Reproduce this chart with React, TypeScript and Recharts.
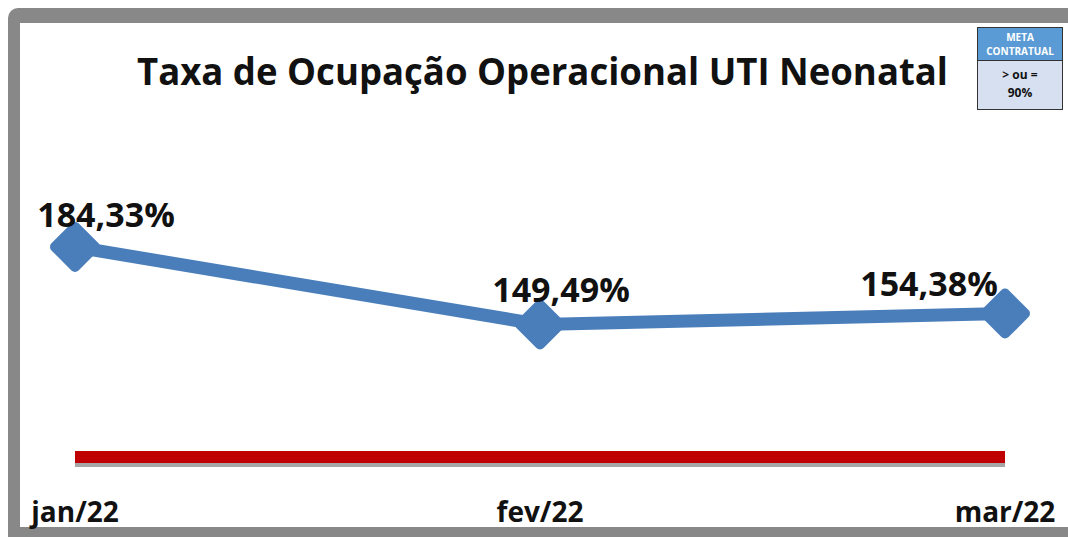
import React from "react";
import { LineChart, Line, XAxis, YAxis, LabelList } from "recharts";

const months = ["jan/22", "fev/22", "mar/22"];
const taxaOcupacao = [184.33, 149.49, 154.38];
const metaContratual = [90, 90, 90];

const data = months.map((mes, i) => ({
  mes,
  taxa: taxaOcupacao[i],
  meta: metaContratual[i],
}));

// where each data label sits relative to its point (Excel moved them by hand)
const labelShift = [
  { dx: 31, dy: -20 },
  { dx: 21, dy: -22 },
  { dx: -76, dy: -18 },
];

const FONT = "'Open Sans', 'Noto Sans', sans-serif";
const BLUE = "#4a7ebb";

const fmt = (v: number) => v.toFixed(2).replace(".", ",") + "%";

const Diamond = (props: any) => {
  const { cx, cy } = props;
  if (cx == null || cy == null) return null;
  const r = 20;
  return (
    <path
      d={`M${cx},${cy - r} L${cx + r},${cy} L${cx},${cy + r} L${cx - r},${cy} Z`}
      fill={BLUE}
      stroke={BLUE}
      strokeWidth={10}
      strokeLinejoin="round"
    />
  );
};

const TaxaLabel = (props: any) => {
  const { x, y, index, value } = props;
  const s = labelShift[index] || { dx: 0, dy: -20 };
  return (
    <text
      x={x + s.dx}
      y={y + s.dy}
      textAnchor="middle"
      fontFamily={FONT}
      fontWeight={700}
      fontSize={34}
      fill="#111"
    >
      {fmt(value)}
    </text>
  );
};

const MonthTick = (props: any) => {
  const { x, y, payload } = props;
  return (
    <text
      x={x}
      y={y}
      dy={17}
      textAnchor="middle"
      fontFamily={FONT}
      fontWeight={700}
      fontSize={28}
      fill="#111"
    >
      {payload.value}
    </text>
  );
};

export default function App() {
  return (
    <div
      style={{
        position: "absolute",
        left: 8,
        top: 8,
        width: 1060,
        height: 529,
        background: "#888888",
        borderTopLeftRadius: 10,
        overflow: "hidden",
      }}
    >
      <div
        style={{
          position: "absolute",
          left: 12,
          top: 15,
          width: 1048,
          height: 504,
          background: "#ffffff",
        }}
      />
      <div style={{ position: "absolute", left: 0, top: 0 }}>
        <LineChart
          width={1060}
          height={529}
          data={data}
          margin={{ top: 204, right: 63, bottom: 0, left: 67 }}
        >
          <XAxis
            dataKey="mes"
            axisLine={false}
            tickLine={false}
            interval={0}
            height={40}
            padding={{ left: 0, right: 0 }}
            tick={<MonthTick />}
          />
          <YAxis hide domain={[72, 200]} />
          <Line
            dataKey="meta"
            stroke="#c00000"
            strokeWidth={12}
            dot={false}
            activeDot={false}
            isAnimationActive={false}
            style={{ filter: "drop-shadow(0px 4px 0px #a6a6a6)" }}
          />
          <Line
            dataKey="taxa"
            stroke={BLUE}
            strokeWidth={13}
            dot={<Diamond />}
            activeDot={false}
            isAnimationActive={false}
          >
            <LabelList dataKey="taxa" content={<TaxaLabel />} />
          </Line>
        </LineChart>
      </div>
      <svg
        width={1060}
        height={100}
        style={{ position: "absolute", left: 0, top: 0, pointerEvents: "none" }}
      >
        <text
          x={129}
          y={77}
          textLength={811}
          lengthAdjust="spacingAndGlyphs"
          fontFamily={FONT}
          fontWeight={700}
          fontSize={38}
          fill="#111"
        >
          Taxa de Ocupação Operacional UTI Neonatal
        </text>
      </svg>
      <div
        style={{
          position: "absolute",
          left: 969,
          top: 19,
          width: 86,
          height: 83,
          border: "1px solid #333",
          fontFamily: FONT,
          fontWeight: 700,
          textAlign: "center",
          boxSizing: "border-box",
        }}
      >
        <div
          style={{
            height: 33,
            background: "#5b9bd5",
            color: "#fff",
            fontSize: 10,
            lineHeight: "14px",
            paddingTop: 2,
            boxSizing: "border-box",
            borderBottom: "1px solid #333",
          }}
        >
          META
          <br />
          CONTRATUAL
        </div>
        <div
          style={{
            height: 48,
            background: "#d6e0f0",
            color: "#111",
            fontSize: 12,
            lineHeight: "18px",
            paddingTop: 5,
            boxSizing: "border-box",
          }}
        >
          &gt; ou =
          <br />
          90%
        </div>
      </div>
    </div>
  );
}
